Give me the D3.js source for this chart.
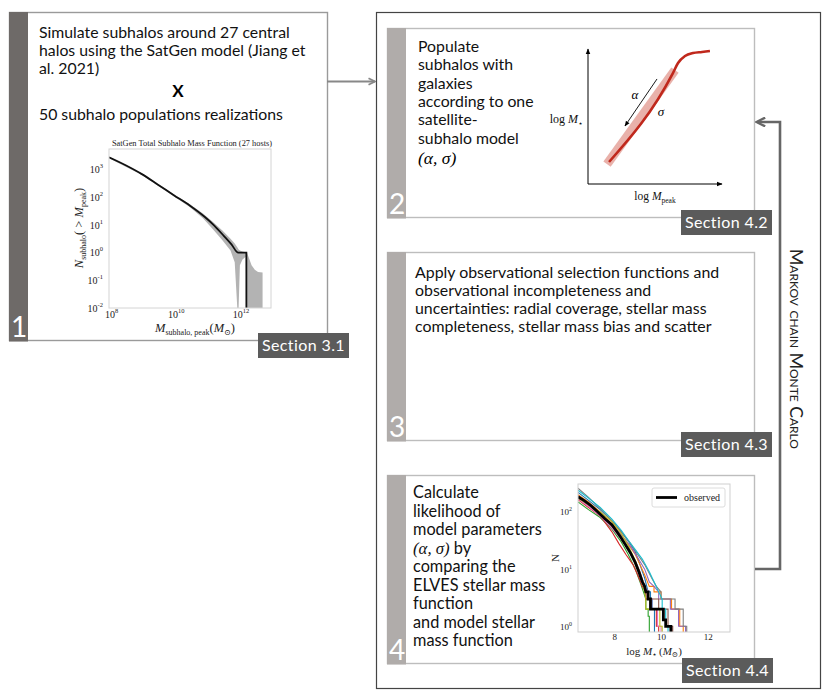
<!DOCTYPE html>
<html><head><meta charset="utf-8">
<script src="https://cdn.jsdelivr.net/npm/d3@7"></script>
<style>
html,body{margin:0;padding:0;background:#fff;}
svg{display:block;font-family:Lato,'Noto Sans',sans-serif;}
</style></head>
<body>
<svg id="c" width="830" height="692"></svg>
<script>
// ---------------- text data ----------------
const step1Lines = ["Simulate subhalos around 27 central", "halos using the SatGen model (Jiang et", "al. 2021)"];
const step1Times = "X";
const step1Tail = "50 subhalo populations realizations";
const step2Lines = ["Populate", "subhalos with", "galaxies", "according to one", "satellite-", "subhalo model"];
const step2Params = "(α, σ)";
const step3Lines = ["Apply observational selection functions and", "observational incompleteness and", "uncertainties: radial coverage, stellar mass", "completeness, stellar mass bias and scatter"];
const step4Lines = ["Calculate", "likelihood of", "model parameters", "§(α, σ)§ by", "comparing the", "ELVES stellar mass", "function", "and model stellar", "mass function"];
const stepNumbers = ["1", "2", "3", "4"];
const sectionLabels = ["Section 3.1", "Section 4.2", "Section 4.3", "Section 4.4"];
const mcmcLabel = "Markov chain Monte Carlo";

// ---------------- panel 1: SatGen subhalo mass function (log10 values) ----------------
const shmfTitle = "SatGen Total Subhalo Mass Function (27 hosts)";
const shmfXTicks = [8, 10, 12];
const shmfYTicks = [-2, -1, 0, 1, 2, 3];
const shmfLogM = [8.0, 8.5, 9.0, 9.5, 10.0, 10.5, 10.95, 11.25, 11.55, 11.78, 11.99, 12.24, 12.24];
const shmfLogN = [3.45, 3.17, 2.85, 2.47, 2.08, 1.7, 1.3, 0.98, 0.6, 0.3, 0.0, 0.0, -2.0];
const bandLogM  = [8.0, 9.0, 10.0, 10.5, 10.9, 11.2, 11.5, 11.75, 11.88, 11.96, 12.0, 12.04, 12.12, 12.22, 12.245, 12.26, 12.4, 12.5, 12.6, 12.74];
const bandUpper = [3.47, 2.88, 2.11, 1.75, 1.42, 1.12, 0.8, 0.5, 0.33, 0.2, 0.12, 0.08, 0.04, 0.02, 0.0, 0.0, -0.45, -0.62, -0.7, -0.72];
const bandLower = [3.42, 2.82, 2.04, 1.64, 1.25, 0.86, 0.45, 0.08, -0.35, -2.0, -2.0, -0.45, -0.25, -0.15, -2.0, -2.0, -2.0, -2.0, -2.0, -2.0];

// ---------------- panel 2: SHMR illustration (arbitrary units 0-10) ----------------
const shmrX = [1.57, 6.34, 6.72, 7.24, 7.84, 8.51, 9.1];
const shmrY = [1.63, 8.22, 8.96, 9.48, 9.7, 9.78, 9.85];
const scatterBandX = [1.42, 6.49];
const scatterBandY = [1.48, 8.44];
const slopeArrowX = [5.15, 2.76];
const slopeArrowY = [7.78, 4.3];

// ---------------- panel 3: stellar mass functions [log M*, N(>M*)] ----------------
const smfXTicks = [8, 10, 12];
const smfYTicks = [1, 10, 100];
const smfObserved = [[6.45,185],[6.7,160],[7.0,130],[7.3,100],[7.6,76],[7.9,60],[8.1,46],[8.3,35],[8.5,26],[8.7,19],[8.9,13],[9.05,9],[9.2,6],[9.3,5],[9.35,4],[9.45,4],[9.45,3],[9.55,3],[9.55,2],[10.1,2],[10.1,1.3],[10.2,1.3],[10.2,1],[10.42,1],[10.42,0.5]];
const smfModelColors = ["#1f77b4","#ff7f0e","#2ca02c","#d62728","#9467bd","#8c564b","#e377c2","#7f7f7f","#bcbd22","#17becf"];
const smfModels = [
  [[6.45,220],[6.9,160],[7.4,110],[7.9,70],[8.3,45],[8.6,31],[8.9,20],[9.1,12],[9.3,7],[9.45,4],[9.55,4],[9.55,3],[9.62,3],[9.62,2],[9.72,2],[9.72,0.5]],
  [[6.45,200],[6.9,150],[7.4,100],[7.9,62],[8.3,40],[8.6,27],[8.9,18],[9.1,12],[9.3,8],[9.5,5],[9.7,5],[9.7,4],[10.0,4],[10.0,3],[10.45,3],[10.45,2],[10.8,2],[10.8,1],[10.95,1],[10.95,0.5]],
  [[6.45,150],[6.9,110],[7.4,80],[7.9,50],[8.3,30],[8.6,18],[8.9,10],[9.1,6],[9.25,4],[9.35,3],[9.35,2],[9.45,2],[9.45,1.5],[9.5,1.5],[9.5,0.5]],
  [[6.45,165],[6.9,120],[7.4,85],[7.9,45],[8.2,28],[8.5,18],[8.8,12],[9.0,8],[9.2,5],[9.35,4],[9.35,3],[9.55,3],[9.55,2],[9.8,2],[9.8,1],[9.9,1],[9.9,0.5]],
  [[6.45,190],[6.9,140],[7.4,95],[7.9,60],[8.3,40],[8.7,25],[9.0,16],[9.3,10],[9.5,6],[9.7,5],[9.9,4],[9.9,3],[10.4,3],[10.4,2],[10.75,2],[10.75,1],[11.05,1],[11.05,0.5]],
  [[6.45,175],[6.9,130],[7.4,90],[7.9,55],[8.3,35],[8.6,22],[8.9,14],[9.1,9],[9.3,5],[9.35,4],[9.35,3],[9.9,3],[9.9,2],[10.3,2],[10.3,1],[10.5,1],[10.5,0.5]],
  [[6.45,170],[6.9,125],[7.4,85],[7.9,52],[8.3,33],[8.6,22],[8.9,14],[9.1,8],[9.3,5],[9.45,4],[9.45,3],[9.6,3],[9.6,2],[9.85,2],[9.85,1],[10.0,1],[10.0,0.5]],
  [[6.45,260],[6.9,180],[7.4,115],[7.9,70],[8.3,45],[8.7,28],[9.0,18],[9.3,12],[9.6,7],[9.8,5],[10.0,4],[10.0,3],[10.6,3],[10.6,2],[10.95,2],[10.95,1],[11.1,1],[11.1,0.5]],
  [[6.45,175],[6.9,135],[7.4,100],[7.9,68],[8.3,42],[8.6,26],[8.9,14],[9.1,8],[9.25,5],[9.35,3],[9.35,2],[9.95,2],[9.95,1],[10.05,1],[10.05,0.5]],
  [[6.45,240],[6.9,175],[7.4,120],[7.9,75],[8.3,48],[8.6,32],[8.9,22],[9.2,15],[9.5,9],[9.7,6],[9.9,4],[10.05,3],[10.05,2],[10.2,2],[10.2,1],[10.3,1],[10.3,0.5]]
];
const smfLegend = "observed";

// ---------------- drawing ----------------
const svg = d3.select("#c");
const SERIF = "'Liberation Serif','DejaVu Serif',serif";
const defs = svg.append("defs");
defs.append("marker").attr("id","tri").attr("viewBox","0 0 10 10").attr("refX",9).attr("refY",5)
  .attr("markerWidth",6).attr("markerHeight",6).attr("orient","auto")
  .append("path").attr("d","M0,1 L10,5 L0,9 z").attr("fill","#000");
defs.append("marker").attr("id","chev").attr("viewBox","0 0 10 10").attr("refX",9).attr("refY",5)
  .attr("markerWidth",4.5).attr("markerHeight",4.5).attr("orient","auto")
  .append("path").attr("d","M1,1 L9,5 L1,9").attr("fill","none").attr("stroke","#888").attr("stroke-width",2.2);
defs.append("marker").attr("id","chev2").attr("viewBox","0 0 10 10").attr("refX",8.5).attr("refY",5)
  .attr("markerWidth",4.2).attr("markerHeight",4.2).attr("orient","auto")
  .append("path").attr("d","M1,1 L9,5 L1,9").attr("fill","none").attr("stroke","#666").attr("stroke-width",2.2);

// outer MCMC frame
svg.append("rect").attr("x",376.5).attr("y",12.5).attr("width",444).attr("height",676)
  .attr("fill","none").attr("stroke","#444").attr("stroke-width",1.2);

function stepBox(x0, y0, x1, y1, strip, border, num) {
  svg.append("rect").attr("x",x0+0.5).attr("y",y0+0.5).attr("width",x1-x0).attr("height",y1-y0)
    .attr("fill","#fff").attr("stroke",border).attr("stroke-width",1.4);
  svg.append("rect").attr("x",x0).attr("y",y0).attr("width",19).attr("height",y1-y0+1.5).attr("fill",strip);
  svg.append("text").attr("x",x0+10).attr("y",y1-3).attr("text-anchor","middle")
    .attr("fill","#fff").attr("font-size",28).attr("font-weight",400).text(num);
}
stepBox(9, 12, 327, 340, "#6e6a68", "#9a9a9a", stepNumbers[0]);
stepBox(387, 28, 754, 217, "#b0acaa", "#bdbdbd", stepNumbers[1]);
stepBox(387, 252, 754, 440, "#b0acaa", "#bdbdbd", stepNumbers[2]);
stepBox(387, 475, 754, 663, "#b0acaa", "#bdbdbd", stepNumbers[3]);

function lines(x, y0, dy, arr, size) {
  arr.forEach((s, i) => {
    const t = svg.append("text").attr("x", x).attr("y", y0 + i*dy).attr("font-size",size).attr("fill","#111");
    s.split("§").forEach((p, j) => {
      if (!p) return;
      const ts = t.append("tspan").text(p);
      if (j % 2 === 1) ts.attr("font-family", SERIF).attr("font-style","italic").attr("font-size", size+0.5);
    });
  });
}
lines(39, 38, 18.2, step1Lines, 15.8);
svg.append("text").attr("x",178).attr("y",97).attr("text-anchor","middle").attr("font-size",17).attr("font-weight",700).text(step1Times);
lines(39, 120, 18, [step1Tail], 15.8);
lines(418, 52, 18.3, step2Lines, 15.8);
svg.append("text").attr("x",418).attr("y",164).attr("font-family",SERIF).attr("font-style","italic").attr("font-size",17.5).text(step2Params);
lines(415, 278, 18.1, step3Lines, 15.9);
lines(413, 498, 18.5, step4Lines, 16.3);

// arrow step1 -> frame
svg.append("line").attr("x1",327).attr("y1",81.5).attr("x2",375).attr("y2",81.5)
  .attr("stroke","#888").attr("stroke-width",1.8).attr("marker-end","url(#chev)");
// MCMC feedback arrow
svg.append("path").attr("d","M755,569 H780 V122 H757").attr("fill","none")
  .attr("stroke","#666").attr("stroke-width",2.6).attr("marker-end","url(#chev2)");
svg.append("text").attr("transform","translate(790,349) rotate(90)").attr("text-anchor","middle")
  .attr("font-size",17.5).style("font-variant","small-caps").attr("fill","#222").text(mcmcLabel);

// ---------- panel 1 ----------
(function(){
  const L=109,R=271,T=149,B=308;
  const x = d3.scaleLinear().domain([8,13]).range([L,R]);
  const y = d3.scaleLinear().domain([-2,3.75]).range([B,T]);
  const g = svg.append("g");
  defs.append("clipPath").attr("id","clip1").append("rect").attr("x",L).attr("y",T).attr("width",R-L).attr("height",B-T);
  g.append("text").attr("x",(L+R)/2+2).attr("y",146).attr("text-anchor","middle").attr("font-family",SERIF).attr("font-size",8.4).attr("fill","#222").text(shmfTitle);
  const pg = g.append("g").attr("clip-path","url(#clip1)");
  pg.append("path").datum(d3.range(bandLogM.length)).attr("fill","#b3b3b3")
    .attr("d", d3.area().x(i=>x(bandLogM[i])).y0(i=>y(bandLower[i])).y1(i=>y(bandUpper[i])));
  pg.append("path").datum(d3.range(shmfLogM.length)).attr("fill","none").attr("stroke","#111").attr("stroke-width",1.8)
    .attr("d", d3.line().curve(d3.curveMonotoneX).x(i=>x(shmfLogM[i]) + (i === shmfLogM.length-1 ? 0.001 : 0)).y(i=>y(shmfLogN[i])));
  g.append("rect").attr("x",L).attr("y",T).attr("width",R-L).attr("height",B-T).attr("fill","none").attr("stroke","#d4d4d4");
  const ya = g.append("g").attr("transform",`translate(${L},0)`).call(d3.axisLeft(y).tickValues(shmfYTicks).tickSize(0).tickPadding(2).tickFormat(()=>"10"));
  const xa = g.append("g").attr("transform",`translate(0,${B})`).call(d3.axisBottom(x).tickValues(shmfXTicks).tickSize(0).tickPadding(3).tickFormat(()=>"10"));
  [ya, xa].forEach(a => { a.select(".domain").remove(); a.selectAll("text").attr("font-family",SERIF).attr("font-size",10).attr("fill","#222"); });
  ya.selectAll(".tick text").attr("dx",-4).each(function(d){ d3.select(this).append("tspan").attr("dy",-5).attr("font-size",6.5).text(d < 0 ? "-" + (-d) : d); });
  xa.selectAll(".tick text").attr("dx",2).each(function(d){ d3.select(this).append("tspan").attr("dy",-5).attr("font-size",6.5).text(d); });
  // axis labels
  const yl = g.append("text").attr("transform",`translate(83,228) rotate(-90)`).attr("text-anchor","middle").attr("font-family",SERIF).attr("font-size",12.5).attr("fill","#222");
  yl.append("tspan").attr("font-style","italic").text("N");
  yl.append("tspan").attr("font-size",8).attr("dy",3).text("subhalo");
  yl.append("tspan").attr("dy",-3).text("( > ");
  yl.append("tspan").attr("font-style","italic").text("M");
  yl.append("tspan").attr("font-size",8).attr("dy",3).text("peak");
  yl.append("tspan").attr("dy",-3).text(")");
  const xl = g.append("text").attr("x",195).attr("y",332).attr("text-anchor","middle").attr("font-family",SERIF).attr("font-size",12.5).attr("fill","#222");
  xl.append("tspan").attr("font-style","italic").text("M");
  xl.append("tspan").attr("font-size",8).attr("dy",3).text("subhalo, peak");
  xl.append("tspan").attr("dy",-3).text("(");
  xl.append("tspan").attr("font-style","italic").text("M");
  xl.append("tspan").attr("font-size",8).attr("dy",3).text("⊙");
  xl.append("tspan").attr("dy",-3).text(")");
})();

// ---------- panel 2 ----------
(function(){
  const L=588,R=722,T=49,B=184;
  const x = d3.scaleLinear().domain([0,10]).range([L,R]);
  const y = d3.scaleLinear().domain([0,10]).range([B,T]);
  const g = svg.append("g");
  g.append("line").attr("x1",x(0)).attr("y1",y(0)).attr("x2",x(0)).attr("y2",y(10)).attr("stroke","#000").attr("stroke-width",1).attr("marker-end","url(#tri)");
  g.append("line").attr("x1",x(0)).attr("y1",y(0)).attr("x2",x(10)).attr("y2",y(0)).attr("stroke","#000").attr("stroke-width",1).attr("marker-end","url(#tri)");
  g.append("path").datum(d3.range(scatterBandX.length)).attr("fill","none").attr("stroke","#e9b1aa").attr("stroke-width",9)
    .attr("d", d3.line().x(i=>x(scatterBandX[i])).y(i=>y(scatterBandY[i])));
  g.append("path").datum(d3.range(shmrX.length)).attr("fill","none").attr("stroke","#c0281c").attr("stroke-width",2.6)
    .attr("d", d3.line().curve(d3.curveMonotoneX).x(i=>x(shmrX[i])).y(i=>y(shmrY[i])));
  g.append("line").attr("x1",x(slopeArrowX[0])).attr("y1",y(slopeArrowY[0])).attr("x2",x(slopeArrowX[1])).attr("y2",y(slopeArrowY[1]))
    .attr("stroke","#000").attr("stroke-width",0.9).attr("marker-end","url(#tri)");
  g.append("text").attr("x",635).attr("y",99).attr("font-family",SERIF).attr("font-style","italic").attr("font-size",13).attr("text-anchor","middle").text("α");
  g.append("text").attr("x",661).attr("y",116).attr("font-family",SERIF).attr("font-style","italic").attr("font-size",13).attr("text-anchor","middle").text("σ");
  const yl = g.append("text").attr("x",583).attr("y",123).attr("text-anchor","end").attr("font-family",SERIF).attr("font-size",12).attr("fill","#111");
  yl.append("tspan").text("log ");
  yl.append("tspan").attr("font-style","italic").text("M");
  yl.append("tspan").attr("font-size",8).attr("dy",2.5).text("⋆");
  const xl = g.append("text").attr("x",655).attr("y",200).attr("text-anchor","middle").attr("font-family",SERIF).attr("font-size",11.5).attr("fill","#111");
  xl.append("tspan").text("log ");
  xl.append("tspan").attr("font-style","italic").text("M");
  xl.append("tspan").attr("font-size",7.5).attr("dy",2.5).text("peak");
})();

// ---------- panel 3 ----------
(function(){
  const L=578,R=730,T=484,B=632;
  const x = d3.scaleLinear().domain([6.45,12.95]).range([L,R]);
  const y = d3.scaleLog().domain([Math.pow(10,-0.1), Math.pow(10,2.49)]).range([B,T]);
  const g = svg.append("g");
  defs.append("clipPath").attr("id","clip3").append("rect").attr("x",L).attr("y",T).attr("width",R-L).attr("height",B-T);
  const pg = g.append("g").attr("clip-path","url(#clip3)");
  const line = d3.line().x(d=>x(d[0])).y(d=>y(d[1]));
  smfModels.forEach((s,i) => pg.append("path").datum(s).attr("fill","none").attr("stroke",smfModelColors[i]).attr("stroke-width",1.1).attr("d",line));
  pg.append("path").datum(smfObserved).attr("fill","none").attr("stroke","#000").attr("stroke-width",2.8).attr("d",line);
  g.append("rect").attr("x",L).attr("y",T).attr("width",R-L).attr("height",B-T).attr("fill","none").attr("stroke","#cfcfcf");
  const ya = g.append("g").attr("transform",`translate(${L},0)`).call(d3.axisLeft(y).tickValues(smfYTicks).tickSize(0).tickPadding(3).tickFormat(()=>"10"));
  const xa = g.append("g").attr("transform",`translate(0,${B})`).call(d3.axisBottom(x).tickValues(smfXTicks).tickSize(0).tickPadding(2).tickFormat(d3.format("d")));
  [ya, xa].forEach(a => { a.select(".domain").remove(); a.selectAll("text").attr("font-family",SERIF).attr("font-size",9).attr("fill","#222"); });
  ya.selectAll(".tick text").attr("dx",-3).each(function(d){ d3.select(this).append("tspan").attr("dy",-4).attr("font-size",6).text(Math.round(Math.log10(d))); });
  g.append("text").attr("transform","translate(559,558) rotate(-90)").attr("text-anchor","middle").attr("font-family",SERIF).attr("font-size",11).attr("fill","#222").text("N");
  const xl = g.append("text").attr("x",654).attr("y",655).attr("text-anchor","middle").attr("font-family",SERIF).attr("font-size",11).attr("fill","#222");
  xl.append("tspan").text("log ");
  xl.append("tspan").attr("font-style","italic").text("M");
  xl.append("tspan").attr("font-size",7.5).attr("dy",2).text("⋆ ");
  xl.append("tspan").attr("dy",-2).text("(");
  xl.append("tspan").attr("font-style","italic").text("M");
  xl.append("tspan").attr("font-size",7.5).attr("dy",2).text("⊙");
  xl.append("tspan").attr("dy",-2).text(")");
  // legend
  g.append("rect").attr("x",652).attr("y",488).attr("width",73).attr("height",19).attr("rx",2).attr("fill","#fff").attr("fill-opacity",0.85).attr("stroke","#dcdcdc");
  g.append("line").attr("x1",656).attr("x2",677).attr("y1",497.5).attr("y2",497.5).attr("stroke","#000").attr("stroke-width",2.8);
  g.append("text").attr("x",684).attr("y",501).attr("font-family",SERIF).attr("font-size",10).attr("fill","#222").text(smfLegend);
})();

// section labels
const sectionPos = [[258,333],[681,210],[681,432],[682,658]];
sectionLabels.forEach((s,i) => {
  const [sx, sy] = sectionPos[i];
  svg.append("rect").attr("x",sx).attr("y",sy).attr("width",91).attr("height",25).attr("fill","#5b5b5b");
  svg.append("text").attr("x",sx+45.5).attr("y",sy+18).attr("text-anchor","middle").attr("fill","#fff")
    .attr("font-size",16).attr("letter-spacing",0.4).text(s);
});
</script>
</body></html>
